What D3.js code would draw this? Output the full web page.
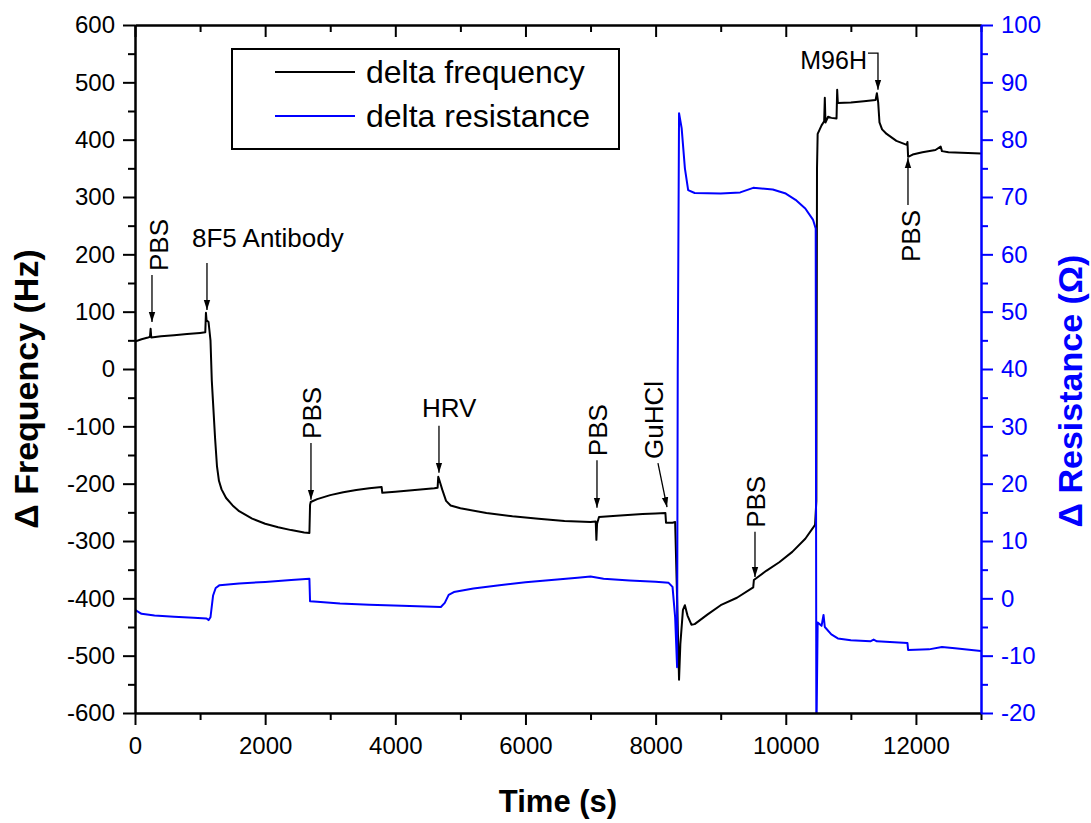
<!DOCTYPE html>
<html>
<head>
<meta charset="utf-8">
<script src="https://cdn.jsdelivr.net/npm/d3@7"></script>
<style>
  body { margin: 0; background: #fff; }
  svg text { font-family: Arial, "Liberation Sans", sans-serif; }
</style>
</head>
<body>
<div id="chart"></div>
<script>
// data
var freqTime = [0, 100, 200, 230, 240, 250, 400, 600, 800, 1000, 1080, 1090, 1100, 1130, 1160, 1180, 1200, 1230, 1260, 1290, 1330, 1400, 1500, 1600, 1800, 2000, 2200, 2400, 2600, 2680, 2690, 2700, 2800, 3000, 3200, 3400, 3600, 3790, 3800, 4000, 4300, 4600, 4650, 4660, 4680, 4720, 4780, 4850, 5000, 5400, 5800, 6200, 6600, 7000, 7080, 7090, 7100, 7130, 7400, 7800, 8000, 8150, 8160, 8260, 8300, 8330, 8360, 8380, 8420, 8450, 8490, 8550, 8600, 8800, 9000, 9250, 9500, 9510, 9700, 9900, 10100, 10300, 10450, 10470, 10480, 10490, 10550, 10590, 10600, 10610, 10650, 10700, 10780, 10790, 10800, 11000, 11200, 11380, 11400, 11420, 11440, 11480, 11550, 11700, 11860, 11870, 11880, 11950, 12100, 12300, 12380, 12400, 12500, 12700, 13000];
var freqValues = [48, 52, 55, 56, 70, 55, 57, 59, 61, 63, 64, 98, 85, 82, 50, -20, -60, -120, -170, -195, -210, -225, -238, -248, -261, -270, -276, -281, -285, -286, -237, -232, -227, -220, -215, -211, -208, -206, -216, -214, -211, -208, -207, -188, -195, -210, -230, -238, -243, -251, -257, -261, -265, -267, -266, -298, -270, -258, -256, -253, -252, -251, -268, -268, -267, -400, -542, -480, -420, -412, -430, -446, -445, -428, -412, -399, -381, -368, -352, -337, -319, -296, -272, -230, 350, 410, 425, 432, 473, 430, 440, 438, 437, 487, 464, 465, 467, 469, 481, 465, 430, 418, 410, 398, 391, 396, 370, 374, 378, 382, 388, 380, 378, 377, 376];

var resTime = [0, 100, 300, 600, 900, 1100, 1130, 1160, 1200, 1240, 1300, 1600, 2000, 2400, 2680, 2690, 2800, 3150, 3600, 4100, 4700, 4760, 4820, 4900, 5200, 5600, 6000, 6400, 6800, 7000, 7200, 7600, 8000, 8200, 8260, 8300, 8330, 8340, 8360, 8400, 8450, 8500, 8600, 9000, 9300, 9500, 9800, 10000, 10150, 10300, 10420, 10460, 10470, 10490, 10550, 10580, 10600, 10700, 10800, 11000, 11300, 11350, 11400, 11600, 11870, 11880, 12200, 12400, 12600, 13000];
var resValues = [-2.0, -2.7, -3.0, -3.2, -3.4, -3.5, -3.8, -3.3, 0.5, 1.8, 2.3, 2.6, 2.85, 3.2, 3.4, -0.5, -0.6, -0.9, -1.1, -1.3, -1.5, -0.8, 0.6, 1.1, 1.7, 2.3, 2.8, 3.2, 3.6, 3.8, 3.4, 3.1, 2.9, 2.7, 2.0, -3.3, -12, 40, 84.6, 82, 75, 71.2, 70.7, 70.6, 70.8, 71.6, 71.3, 70.6, 69.5, 68.0, 66, 64.5, -25, -4.2, -4.8, -2.9, -5.0, -6.3, -7.0, -7.3, -7.5, -7.2, -7.5, -7.6, -7.8, -9.0, -8.9, -8.5, -8.7, -9.2];

// annotation labels: arrow at time t, from f0 to f1 (Hz)
var noteLabels = ["PBS", "8F5 Antibody", "PBS", "HRV", "PBS", "GuHCl", "PBS", "M96H", "PBS"];
var noteTime = [261, 1106, 2704, 4671, 7099, 8036, 9527, 11417, 11878];
var noteTimeEnd = [261, 1106, 2704, 4671, 7099, 8175, 9527, 11417, 11878];
var noteFrom = [164, 185, -129, -99, -159, -164, -284, 551, 286];
var noteTo = [82, 103, -228, -181, -242, -241, -363, 487, 368];
var noteVertical = [true, false, true, false, true, true, true, false, true];

var legendNames = ["delta frequency", "delta resistance"];

var blue = "#0000ff";
var margin = {top: 25, right: 110, bottom: 110, left: 135};
var width = 846, height = 688;

var svg = d3.select("#chart").append("svg")
	.attr("width", 1091)
	.attr("height", 823);

var defs = svg.append("defs");
defs.append("clipPath").attr("id", "plotclip")
	.append("rect").attr("width", width).attr("height", height);

defs.append("marker")
	.attr("id", "arrow")
	.attr("viewBox", "0 0 10 10")
	.attr("refX", 10).attr("refY", 5)
	.attr("markerWidth", 10).attr("markerHeight", 10)
	.attr("markerUnits", "userSpaceOnUse")
	.attr("orient", "auto")
	.append("path").attr("d", "M0,1.8L10,5L0,8.2Z").attr("fill", "#000");

var g = svg.append("g").attr("transform", "translate(" + margin.left + "," + margin.top + ")");

var x = d3.scaleLinear().domain([0, 13000]).range([0, width]);
var y = d3.scaleLinear().domain([-600, 600]).range([height, 0]);
var y2 = d3.scaleLinear().domain([-20, 100]).range([height, 0]);

// lines
var freqLine = d3.line().x(function (d, i) { return x(freqTime[i]); }).y(function (d) { return y(d); });
var resLine = d3.line().x(function (d, i) { return x(resTime[i]); }).y(function (d) { return y2(d); });

var plot = g.append("g").attr("clip-path", "url(#plotclip)");
plot.append("path")
	.attr("d", freqLine(freqValues))
	.attr("fill", "none").attr("stroke", "#000").attr("stroke-width", 2)
	.attr("stroke-linejoin", "round");
plot.append("path")
	.attr("d", resLine(resValues))
	.attr("fill", "none").attr("stroke", blue).attr("stroke-width", 2)
	.attr("stroke-linejoin", "round");

// axes
var plain = function (d) { return String(d); };

function styleAxis(sel, col) {
	sel.selectAll("path.domain").attr("stroke", col).attr("stroke-width", 2);
	sel.selectAll(".tick line").attr("stroke", col).attr("stroke-width", 2);
	sel.selectAll(".tick text").attr("fill", col).style("font-size", "24px")
		.style("font-family", "Arial, 'Liberation Sans', sans-serif");
}

var gl = g.append("g").call(d3.axisLeft(y).tickValues(d3.range(-600, 601, 100)).tickSize(12).tickSizeOuter(0).tickPadding(8).tickFormat(plain));
styleAxis(gl, "#000");
var glm = g.append("g").call(d3.axisLeft(y).tickValues(d3.range(-550, 600, 100)).tickSize(7).tickSizeOuter(0).tickFormat(""));
styleAxis(glm, "#000");

var gb = g.append("g").attr("transform", "translate(0," + height + ")")
	.call(d3.axisBottom(x).tickValues(d3.range(0, 13001, 2000)).tickSize(12).tickSizeOuter(0).tickPadding(12).tickFormat(plain));
styleAxis(gb, "#000");
var gbm = g.append("g").attr("transform", "translate(0," + height + ")")
	.call(d3.axisBottom(x).tickValues(d3.range(1000, 13001, 2000)).tickSize(7).tickSizeOuter(0).tickFormat(""));
styleAxis(gbm, "#000");

var gt = g.append("g").call(d3.axisTop(x).tickValues(d3.range(0, 13001, 2000)).tickSize(-12).tickSizeOuter(0).tickFormat(""));
styleAxis(gt, "#000");
var gtm = g.append("g").call(d3.axisTop(x).tickValues(d3.range(1000, 13001, 2000)).tickSize(-7).tickSizeOuter(0).tickFormat(""));
styleAxis(gtm, "#000");

var gr = g.append("g").attr("transform", "translate(" + width + ",0)")
	.call(d3.axisRight(y2).tickValues(d3.range(-20, 101, 10)).tickSize(12).tickSizeOuter(0).tickPadding(8).tickFormat(plain));
styleAxis(gr, blue);
var grm = g.append("g").attr("transform", "translate(" + width + ",0)")
	.call(d3.axisRight(y2).tickValues(d3.range(-15, 100, 10)).tickSize(7).tickSizeOuter(0).tickFormat(""));
styleAxis(grm, blue);

// axis titles
svg.append("text")
	.attr("x", 558).attr("y", 812)
	.attr("text-anchor", "middle")
	.style("font-size", "31px").style("font-weight", "bold")
	.text("Time (s)");

svg.append("text")
	.attr("transform", "translate(38,389) rotate(-90)")
	.attr("text-anchor", "middle")
	.style("font-size", "34px").style("font-weight", "bold")
	.text("\u0394 Frequency (Hz)");

svg.append("text")
	.attr("transform", "translate(1082,391) rotate(-90)")
	.attr("text-anchor", "middle")
	.attr("fill", blue)
	.style("font-size", "34px").style("font-weight", "bold")
	.text("\u0394 Resistance (\u03A9)");

// annotations
var notes = g.append("g");
noteLabels.forEach(function (label, i) {
	var ax = x(noteTime[i]), ay0 = y(noteFrom[i]);
	var bx = x(noteTimeEnd[i]), ay1 = y(noteTo[i]);
	if (label === "M96H") {
		notes.append("path")
			.attr("d", "M" + (ax - 10) + "," + ay0 + "H" + ax + "V" + ay1)
			.attr("fill", "none").attr("stroke", "#000").attr("stroke-width", 1.3)
			.attr("marker-end", "url(#arrow)");
		notes.append("text")
			.attr("x", ax - 11).attr("y", ay0 + 16)
			.attr("text-anchor", "end")
			.style("font-size", "25px")
			.text(label);
		return;
	}
	notes.append("line")
		.attr("x1", ax).attr("y1", ay0).attr("x2", bx).attr("y2", ay1)
		.attr("stroke", "#000").attr("stroke-width", 1.3)
		.attr("marker-end", "url(#arrow)");
	if (noteVertical[i]) {
		var up = noteTo[i] > noteFrom[i];
		var off = label === "GuHCl" ? 5 : (i === 0 ? 16 : (i === 8 ? 12 : 10));
		notes.append("text")
			.attr("transform", "translate(" + (ax + off) + "," + (up ? ay0 + 5 : ay0 - 4) + ") rotate(-90)")
			.attr("text-anchor", up ? "end" : "start")
			.style("font-size", "26px")
			.text(label);
	} else {
		notes.append("text")
			.attr("x", ax - (label === "HRV" ? 17 : 15)).attr("y", ay0 - (label === "HRV" ? 9 : 16))
			.style("font-size", "26px")
			.text(label);
	}
});

// legend
var legend = svg.append("g").attr("transform", "translate(232,49)");
legend.append("rect")
	.attr("width", 387).attr("height", 100)
	.attr("fill", "#fff").attr("stroke", "#000").attr("stroke-width", 2);
var legendColors = ["#000", blue];
legendNames.forEach(function (name, i) {
	legend.append("line")
		.attr("x1", 43).attr("x2", 123)
		.attr("y1", 23 + i * 44).attr("y2", 23 + i * 44)
		.attr("stroke", legendColors[i]).attr("stroke-width", 2);
	legend.append("text")
		.attr("x", 134).attr("y", 34 + i * 44)
		.style("font-size", "32px")
		.text(name);
});
</script>
</body>
</html>
